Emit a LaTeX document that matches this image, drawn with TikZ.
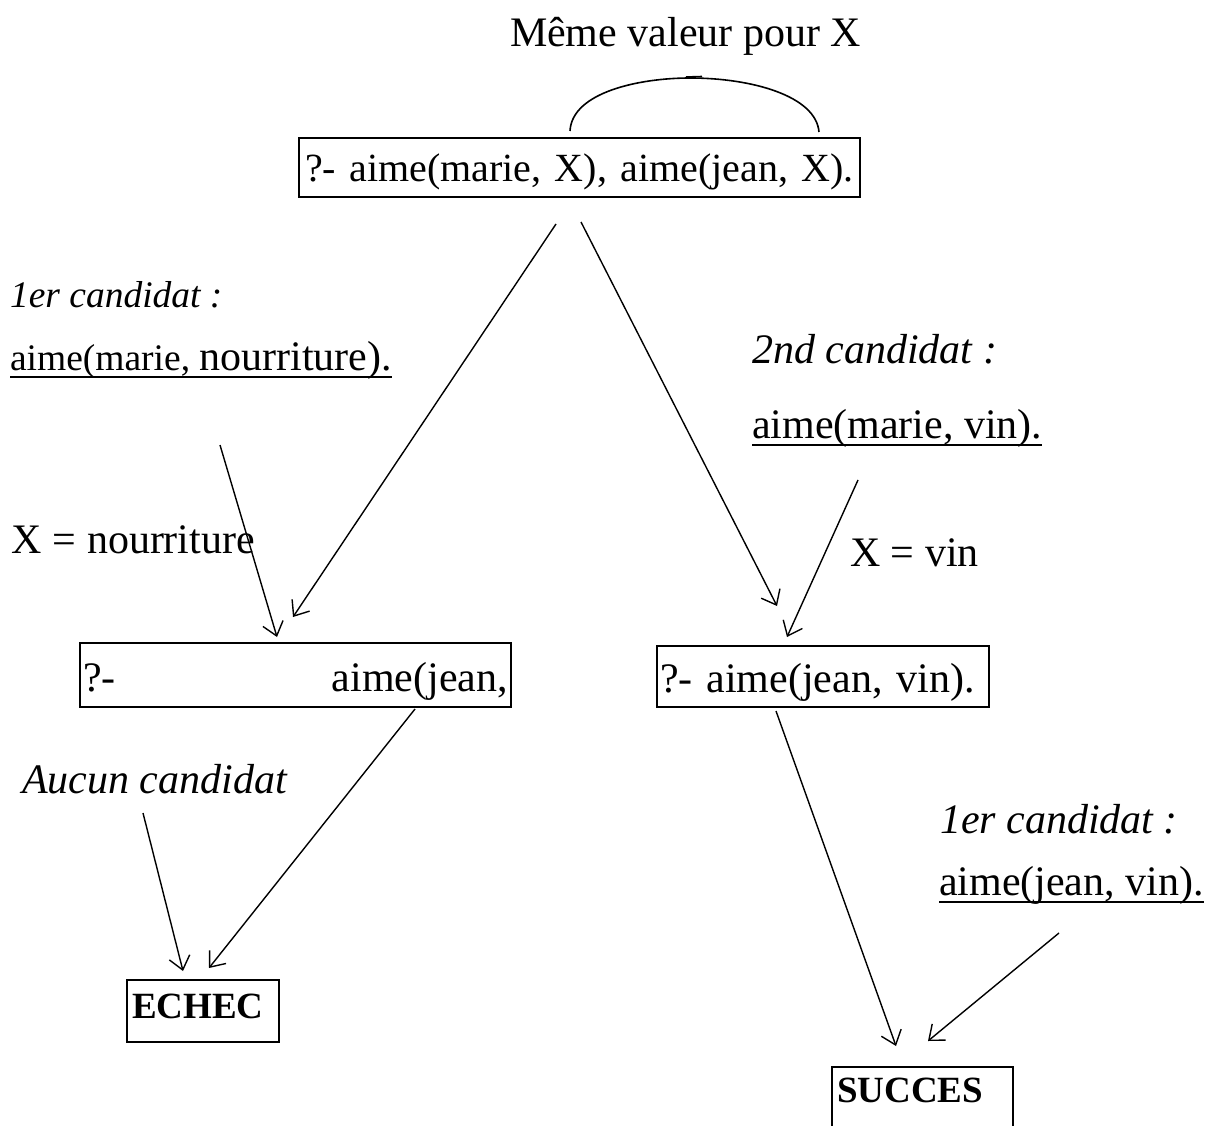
\documentclass[tikz,border=0pt]{standalone}
\usepackage{fontspec}
\setmainfont{Liberation Serif}
\usetikzlibrary{arrows.meta,calc}
\frenchspacing

% word-style underline: a rule a little below the baseline, through descenders
\newcommand\ulword[1]{\setbox0\hbox{#1}\rlap{\rule[-8pt]{\wd0}{2.5pt}}\box0}
\newcommand\sizemain{\fontsize{42}{50}\selectfont}
\newcommand\sizeless{\fontsize{37.5}{45}\selectfont}

\begin{document}
\begin{tikzpicture}[x=1pt,y=-1pt,
  every node/.style={inner sep=0pt, outer sep=0pt},
  lbl/.style={anchor=base west, font=\sizemain},
  ital/.style={anchor=base west, font=\sizemain\itshape},
  goal/.style={draw, line width=1.6pt, anchor=north west, font=\sizemain,
    align=left, inner xsep=3pt, inner ysep=0pt},
  verdict/.style={goal, font=\fontsize{37}{44}\selectfont\bfseries, inner xsep=5pt},
  link/.style={line width=1.4pt, -{Straight Barb[length=13pt,width=21pt]}},
]
\clip (0,0) rectangle (1213,1126);

% goals of the resolution tree
\node[goal, font=\fontsize{40}{48}\selectfont, text width=549pt, inner xsep=6pt,
  text height=44pt, text depth=15pt] (q0) at (299,138)
  {\mbox{?- aime(marie, X), aime(jean, X).}};
\node[goal, text width=425pt, text height=48pt, text depth=16pt] (q1) at (80,643)
  {?-\hfill aime(jean,};
\node[goal, text width=326pt, text height=46pt, text depth=15pt] (q2) at (657,646)
  {?- aime(jean, vin).};
\node[verdict, text width=142pt, text height=38pt, text depth=24pt] (fail) at (127,980)
  {ECHEC};
\node[verdict, text width=171pt, text height=35pt, text depth=30pt] (win) at (832,1067)
  {SUCCES};

% shared variable between the two subgoals
\node[lbl] (same) at (510,47) {Même valeur pour X};
\draw[line width=1.6pt] (570,131) .. controls (572,92) and (640,78) .. (690,78)
  .. controls (752,78) and (816,96) .. (819,132);
\draw[line width=1.6pt] (686,77) -- (702,76.5);

% candidate clauses and bindings
\node[font=\sizeless\itshape, anchor=base west] (c1) at (10,307) {1er candidat :};
\node[lbl] (f1) at (10,370) {\ulword{{\sizeless aime(marie, }nourriture).}};
\node[lbl] (x1) at (12,553) {X = nourriture};
\node[ital] (c2) at (752,363) {2nd candidat :};
\node[lbl] (f2) at (752,438) {\ulword{aime(marie, vin).}};
\node[lbl] (x2) at (850,566) {X = vin};
\node[ital] (c3) at (22,793) {Aucun candidat};
\node[ital] (c4) at (940,833) {1er candidat :};
\node[lbl] (f3) at (939,895) {\ulword{aime(jean, vin).}};

% arrow end points
\coordinate (q0l) at (556,224);  \coordinate (q1t) at (293,617);
\coordinate (q0r) at (581,222);  \coordinate (q2t) at (777,606);
\coordinate (f1b) at (220,445);  \coordinate (q1u) at (277,637);
\coordinate (f2b) at (858,480);  \coordinate (q2u) at (787,637);
\coordinate (q1b) at (415,709);  \coordinate (failr) at (209,968);
\coordinate (c3b) at (143,813);  \coordinate (faill) at (183,971);
\coordinate (q2b) at (776,711);  \coordinate (winl) at (896,1046);
\coordinate (f3b) at (1059,933); \coordinate (winr) at (928,1041);

\draw[link] (q0l) -- (q1t);
\draw[link] (q0r) -- (q2t);
\draw[link] (f1b) -- (q1u);
\draw[link] (f2b) -- (q2u);
\draw[link] (q1b) -- (failr);
\draw[link] (c3b) -- (faill);
\draw[link] (q2b) -- (winl);
\draw[link] (f3b) -- (winr);
\end{tikzpicture}
\end{document}
